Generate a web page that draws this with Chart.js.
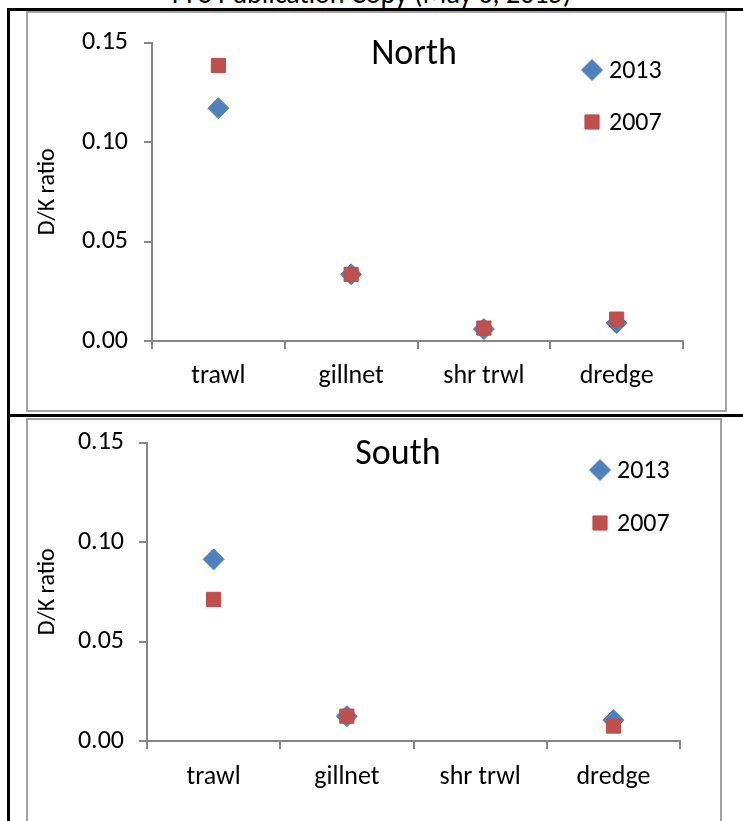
<!DOCTYPE html>
<html lang="en">
<head>
    <meta charset="UTF-8">
    <title>D/K ratio by gear - North / South</title>
    <script src="https://cdn.jsdelivr.net/npm/chart.js@4.4.0/dist/chart.umd.js"></script>
    <style>
        html, body {
            margin: 0;
            padding: 0;
            width: 743px;
            height: 821px;
            overflow: hidden;
            background: #ffffff;
            font-family: Carlito, Lato, sans-serif;
        }
        .header {
            position: absolute;
            left: 0;
            top: -20px;
            width: 743px;
            text-align: center;
            font-size: 28px;
            line-height: 28px;
            color: #000;
        }
        .rule { position: absolute; background: #000; }
        .frame {
            position: absolute;
            box-sizing: border-box;
            border: 2px solid #a3a3a3;
        }
        canvas { position: absolute; }
    </style>
</head>
<body>
    <div class="header">PFS Publication Copy (May 6, 2015)</div>
    <div class="rule" style="left:7px; top:8px; width:736px; height:3px;"></div>
    <div class="rule" style="left:7px; top:8px; width:3px; height:813px;"></div>
    <div class="rule" style="left:7px; top:414px; width:736px; height:3px;"></div>

    <div class="frame" style="left:26px; top:11px; width:701px; height:401px;"></div>
    <div class="frame" style="left:26px; top:418px; width:696px; height:420px;"></div>

    <canvas id="northChart" width="700" height="401" style="left:27px; top:11px;"></canvas>
    <canvas id="southChart" width="695" height="426" style="left:27px; top:412px;"></canvas>

    <script>
        // data
        const categories = ['trawl', 'gillnet', 'shr trwl', 'dredge'];
        const seriesNames = ['2013', '2007'];
        const north2013 = [0.117, 0.0335, 0.006, 0.009];
        const north2007 = [0.1385, 0.0335, 0.0065, 0.011];
        const south2013 = [0.0913, 0.0125, null, 0.0105];
        const south2007 = [0.0712, 0.0125, null, 0.0075];
        const yTicks = [0, 0.05, 0.10, 0.15];

        const FONT = 'Carlito, Lato, sans-serif';
        const AXIS = '#868686';
        const BLUE = '#4F81BD';
        const RED = '#C0504D';

        // draws the panel title and the little legend inside the plot
        const panelDecor = {
            id: 'panelDecor',
            afterDraw(chart, args, opts) {
                const ctx = chart.ctx;
                ctx.save();
                ctx.fillStyle = '#000';
                ctx.textBaseline = 'middle';
                ctx.textAlign = 'center';
                ctx.font = '36px ' + FONT;
                ctx.fillText(opts.title, opts.titleX, opts.titleY);

                ctx.font = '26px ' + FONT;
                ctx.textAlign = 'left';
                // legend in series order (2013 first)
                const ordered = chart.data.datasets.slice().sort((a, b) => a.legendIndex - b.legendIndex);
                ordered.forEach((ds, i) => {
                    const y = opts.legendY + i * opts.legendGap;
                    ctx.fillStyle = ds.backgroundColor;
                    ctx.strokeStyle = ds.borderColor;
                    ctx.lineWidth = ds.borderWidth;
                    Chart.helpers.drawPoint(ctx, {
                        pointStyle: ds.pointStyle,
                        radius: ds.pointRadius,
                        borderWidth: ds.borderWidth,
                        rotation: 0
                    }, opts.legendX, y);
                    ctx.fillStyle = '#000';
                    ctx.fillText(ds.label, opts.legendX + 17, y + 1);
                });
                ctx.restore();
            }
        };

        function makeDatasets(v2013, v2007) {
            return [{
                label: seriesNames[0],
                data: v2013,
                legendIndex: 0,
                order: 2,
                showLine: false,
                pointStyle: 'rectRot',
                pointRadius: 10.5,
                backgroundColor: BLUE,
                borderColor: BLUE,
                borderWidth: 1
            }, {
                label: seriesNames[1],
                data: v2007,
                legendIndex: 1,
                order: 1,
                showLine: false,
                pointStyle: 'rect',
                pointRadius: 10,
                backgroundColor: RED,
                borderColor: '#BE4B48',
                borderWidth: 1
            }];
        }

        function makeChart(id, v2013, v2007, yWidth, padding, xPad, yPad, decor) {
            const ctx = document.getElementById(id).getContext('2d');
            return new Chart(ctx, {
                type: 'line',
                data: {
                    labels: categories,
                    datasets: makeDatasets(v2013, v2007)
                },
                plugins: [panelDecor],
                options: {
                    responsive: false,
                    animation: false,
                    devicePixelRatio: 1,
                    layout: { padding: padding },
                    plugins: {
                        legend: { display: false },
                        tooltip: { enabled: false },
                        panelDecor: decor
                    },
                    scales: {
                        x: {
                            type: 'category',
                            offset: true,
                            afterFit: function(scale) { scale.height = 71; },
                            grid: {
                                offset: true,
                                drawOnChartArea: false,
                                tickLength: 8,
                                color: AXIS,
                                lineWidth: 2
                            },
                            border: { color: AXIS, width: 2 },
                            ticks: {
                                color: '#000',
                                padding: xPad,
                                font: { family: FONT, size: 26 }
                            }
                        },
                        y: {
                            min: 0,
                            max: 0.15,
                            afterFit: function(scale) { scale.width = yWidth; },
                            afterBuildTicks: function(scale) {
                                scale.ticks = yTicks.map(v => ({ value: v }));
                            },
                            grid: {
                                drawOnChartArea: false,
                                tickLength: 8,
                                color: AXIS,
                                lineWidth: 2
                            },
                            border: { color: AXIS, width: 2 },
                            ticks: {
                                color: '#000',
                                padding: yPad,
                                font: { family: FONT, size: 26 },
                                callback: function(value) { return Number(value).toFixed(2); }
                            },
                            title: {
                                display: true,
                                text: 'D/K ratio',
                                color: '#000',
                                padding: { top: 7, bottom: 0 },
                                font: { family: FONT, size: 24 }
                            }
                        }
                    }
                }
            });
        }

        makeChart('northChart', north2013, north2007, 125,
            { left: 0, right: 44, top: 31, bottom: 0 }, 12, 16,
            { title: 'North', titleX: 387, titleY: 44, legendX: 565, legendY: 59, legendGap: 52 });

        makeChart('southChart', south2013, south2007, 120,
            { left: 0, right: 42, top: 29, bottom: 26 }, 13, 15,
            { title: 'South', titleX: 371, titleY: 43, legendX: 573, legendY: 58, legendGap: 53 });
    </script>
</body>
</html>
